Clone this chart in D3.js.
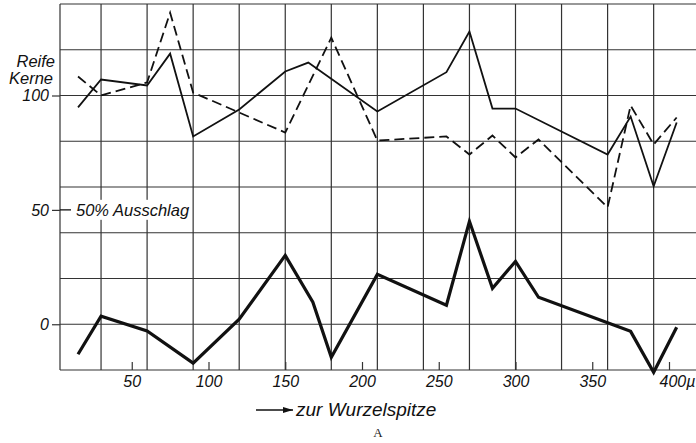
<!DOCTYPE html>
<html>
<head>
    <meta charset="utf-8">
    <script src="https://cdn.jsdelivr.net/npm/d3@7"></script>
    <style>
        body { margin: 0; background: #fff; }
        .lbl { font-family: "Liberation Sans", Arial, sans-serif; font-style: italic; fill: #111; }
        .grid line { stroke: #333; stroke-width: 1.2; }
    </style>
</head>
<body>
    <svg id="svg" width="696" height="443"></svg>
    <script>
        // Reife Kerne (thin solid)
        var solidX = [15, 30, 60, 75, 90, 120, 150, 165, 210, 255, 270, 285, 300, 360, 375, 390, 405];
        var solidKerne = [94.8, 107, 104.4, 118.3, 82.1, 93.9, 110.5, 114.4, 93, 110.2, 128, 94.3, 94.3, 74.2, 90.8, 60.3, 88.2];
        // Reife Kerne (dashed)
        var dashedX = [15, 30, 60, 75, 90, 150, 180, 210, 255, 270, 285, 300, 315, 360, 375, 390, 405];
        var dashedKerne = [108.3, 100, 105.7, 136.2, 101.3, 83.8, 125.3, 80.3, 82.1, 74.2, 82.5, 72.9, 80.8, 51.1, 95.6, 78.6, 90.4];
        // % Ausschlag (thick)
        var ausschlagX = [15, 30, 60, 90, 120, 150, 168, 180, 210, 255, 270, 285, 300, 315, 360, 375, 390, 405];
        var ausschlag = [-13.1, 3.5, -2.9, -17, 2.2, 30.1, 9.6, -14.4, 21.8, 8.3, 45, 15.7, 27.5, 11.8, 0.7, -3.1, -21, -1.3];

        var xTickValues = [50, 100, 150, 200, 250, 300, 350, 400];
        var yTickValues = [0, 50, 100];
        var gridX = [30, 60, 90, 120, 150, 180, 210, 240, 270, 300, 330, 360, 390];
        var gridY = [-20, 0, 20, 40, 60, 80, 100, 120, 140];

        var svg = d3.select("#svg");
        var plotLeft = 60, plotRight = 700, plotTop = 4, plotBottom = 370;

        var x = d3.scaleLinear().domain([0, 400]).range([55, 669]);
        var y = d3.scaleLinear().domain([-20, 140]).range([plotBottom, plotTop]);

        // grid
        var grid = svg.append("g").attr("class", "grid");
        grid.selectAll(".gx").data(gridX).enter().append("line")
            .attr("x1", function (d) { return x(d); }).attr("x2", function (d) { return x(d); })
            .attr("y1", plotTop).attr("y2", plotBottom);
        grid.selectAll(".gy").data(gridY).enter().append("line")
            .attr("x1", plotLeft).attr("x2", plotRight)
            .attr("y1", function (d) { return y(d); }).attr("y2", function (d) { return y(d); });
        grid.append("line").attr("x1", plotLeft).attr("x2", plotLeft).attr("y1", plotTop).attr("y2", plotBottom);

        // x axis: short inner ticks + labels
        var xAxis = d3.axisBottom(x).tickValues(xTickValues).tickSize(-8).tickPadding(6)
            .tickFormat(function (d) { return d; });
        var gx = svg.append("g").attr("transform", "translate(0," + plotBottom + ")").call(xAxis);
        gx.select(".domain").remove();
        gx.selectAll(".tick line").attr("stroke", "#333").attr("stroke-width", 1.2);
        gx.selectAll(".tick text").attr("class", "lbl").style("font-size", "16px").attr("fill", null);
        gx.selectAll(".tick text").filter(function (d) { return d === 400; })
            .attr("text-anchor", "start").attr("x", -10).text("400µ");

        // y axis
        var yAxis = d3.axisLeft(y).tickValues(yTickValues).tickSize(8).tickPadding(3);
        var gy = svg.append("g").attr("transform", "translate(" + plotLeft + ",0)").call(yAxis);
        gy.select(".domain").remove();
        gy.selectAll(".tick line").attr("stroke", "#333").attr("stroke-width", 1.2);
        gy.selectAll(".tick text").attr("class", "lbl").style("font-size", "16px").attr("fill", null);

        // 50% Ausschlag label
        svg.append("line").attr("x1", plotLeft).attr("x2", 71).attr("y1", y(50)).attr("y2", y(50))
            .attr("stroke", "#111").attr("stroke-width", 1.3);
        var aus = svg.append("text").attr("class", "lbl").style("font-size", "16.5px")
            .attr("x", 76).attr("y", y(50)).attr("dy", "0.36em").text("50% Ausschlag");
        var bb = aus.node().getBBox();
        svg.insert("rect", function () { return aus.node(); })
            .attr("x", bb.x - 2).attr("y", bb.y - 1).attr("width", bb.width + 4).attr("height", bb.height + 2)
            .attr("fill", "#fff");

        svg.append("text").attr("class", "lbl").style("font-size", "16.5px")
            .attr("x", 55).attr("y", 67).attr("text-anchor", "end").text("Reife");
        svg.append("text").attr("class", "lbl").style("font-size", "16.5px")
            .attr("x", 53).attr("y", 84).attr("text-anchor", "end").text("Kerne");

        // lines
        var valueLine = d3.line().x(function (d) { return x(d[0]); }).y(function (d) { return y(d[1]); });
        svg.append("path").datum(d3.zip(solidX, solidKerne))
            .attr("d", valueLine).attr("fill", "none").attr("stroke", "#111").attr("stroke-width", 1.8);
        svg.append("path").datum(d3.zip(dashedX, dashedKerne))
            .attr("d", valueLine).attr("fill", "none").attr("stroke", "#111").attr("stroke-width", 1.8)
            .attr("stroke-dasharray", "10,5");
        svg.append("path").datum(d3.zip(ausschlagX, ausschlag))
            .attr("d", valueLine).attr("fill", "none").attr("stroke", "#111").attr("stroke-width", 3.2)
            .attr("stroke-linejoin", "miter");

        // arrow + caption
        svg.append("defs").append("marker").attr("id", "arr")
            .attr("viewBox", "0 0 10 6").attr("refX", 10).attr("refY", 3)
            .attr("markerWidth", 10).attr("markerHeight", 6).attr("markerUnits", "userSpaceOnUse")
            .attr("orient", "auto")
            .append("path").attr("d", "M0,0L10,3L0,6Z").attr("fill", "#111");
        svg.append("line").attr("x1", 256).attr("x2", 293).attr("y1", 410).attr("y2", 410)
            .attr("stroke", "#111").attr("stroke-width", 1.3).attr("marker-end", "url(#arr)");
        svg.append("text").attr("class", "lbl").style("font-size", "19px")
            .attr("x", 296).attr("y", 416).text("zur Wurzelspitze");
        svg.append("text").style("font-family", "'Liberation Serif', serif").style("font-size", "13px")
            .attr("fill", "#222").attr("x", 378).attr("y", 437).attr("text-anchor", "middle").text("A");
    </script>
</body>
</html>
